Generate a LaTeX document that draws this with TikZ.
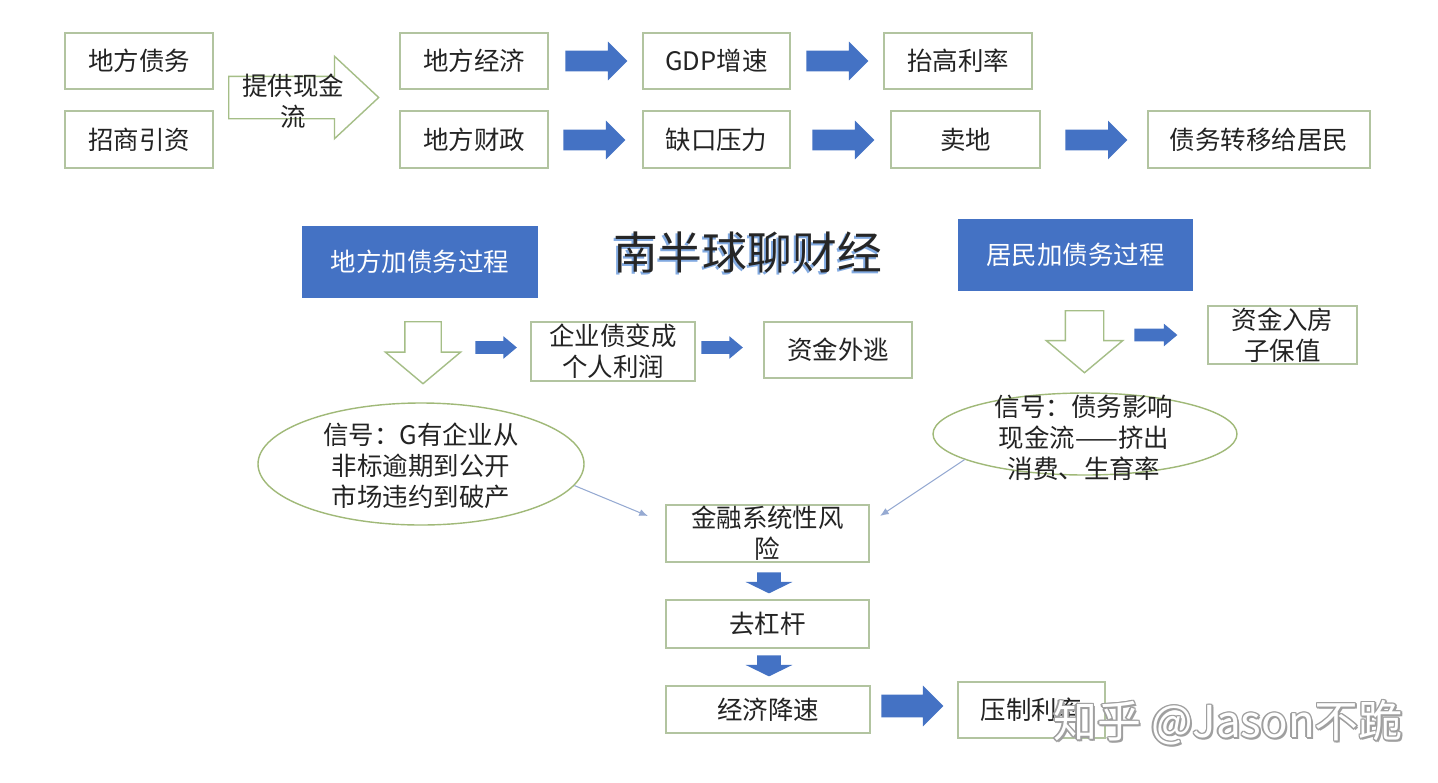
\documentclass[tikz,border=0pt]{standalone}
\usepackage{fontspec}
\setmainfont{Noto Sans CJK SC}
\usetikzlibrary{shapes.arrows,shapes.geometric,arrows.meta}
\definecolor{myblue}{RGB}{68,114,196}
\definecolor{boxc}{RGB}{178,196,160}
\definecolor{hollowc}{RGB}{165,190,135}
\definecolor{ellc}{RGB}{160,185,120}
\definecolor{thinc}{RGB}{150,170,210}
\definecolor{txt}{RGB}{35,35,35}
\definecolor{shadowblue}{RGB}{130,170,225}
\begin{document}
\begin{tikzpicture}[x=0.02cm,y=-0.02cm,
  every node/.style={font=\fontsize{14.5}{17.6}\selectfont, text=txt, align=center},
  sz/.style 2 args={minimum width=#1*0.02cm, minimum height=#2*0.02cm},
  bx/.style={draw=boxc, line width=0.9pt, fill=white, inner sep=0pt},
  bluebox/.style={fill=myblue, draw=none, text=white, inner sep=0pt},
  barr/.style={single arrow, fill=myblue, draw=none, inner xsep=0pt, inner ysep=0.2cm,
    minimum height=1.24cm, minimum width=0.76cm, anchor=tail,
    single arrow head extend=0.18cm, single arrow tip angle=90},
  sarr/.style={single arrow, fill=myblue, draw=none, inner xsep=0pt, inner ysep=0.12cm,
    minimum height=0.83cm, minimum width=0.44cm, anchor=tail,
    single arrow head extend=0.1cm, single arrow tip angle=80},
  darr/.style={single arrow, fill=myblue, draw=none, inner ysep=0pt, inner xsep=0.23cm,
    shape border rotate=270, anchor=tail,
    minimum height=0.42cm, minimum width=0.92cm,
    single arrow head extend=0.23cm, single arrow tip angle=128},
  harr/.style={single arrow, fill=white, draw=hollowc, line width=0.8pt, anchor=tail},
  ell/.style={ellipse, draw=ellc, line width=0.8pt, inner sep=0pt},
  thinarr/.style={draw=thinc, line width=0.6pt, -{Latex[length=5pt,width=4pt]}},
  wmfont/.style={font=\fontsize{25}{25}\selectfont},
]
\useasboundingbox[fill=white] (0,0) rectangle (1438,782);

% ---- top rows
\node[bx, sz={148}{56}] (d1) at (139,61) {地方债务};
\node[bx, sz={148}{57}] (d2) at (139,139.5) {招商引资};
\node[harr, inner xsep=0pt, inner ysep=0.41cm, minimum height=3cm, minimum width=1.62cm,
  single arrow head extend=0.4cm, single arrow tip angle=86] (ha) at (228,97.5) {};
\node (hat) at (293,101) {提供现金\\流};

\node[bx, sz={148}{56}] (e1) at (474,61) {地方经济};
\node[bx, sz={148}{57}] (e2) at (474,139.5) {地方财政};

\node[barr] (a1) at (565,61) {};
\node[bx, sz={147}{56}] (g1) at (716.5,61) {GDP增速};
\node[barr] (a2) at (806,61) {};
\node[bx, sz={148}{56}] (g2) at (958,61) {抬高利率};

\node[barr] (a3) at (563,140) {};
\node[bx, sz={147}{57}] (h1) at (716.5,139.5) {缺口压力};
\node[barr] (a4) at (812,140) {};
\node[bx, sz={149}{57}] (h2) at (965.5,139.5) {卖地};
\node[barr] (a5) at (1065,140) {};
\node[bx, sz={222}{57}] (h3) at (1259,139.5) {债务转移给居民};

% ---- middle
\node[bluebox, sz={236}{72}] (L) at (420,261.5) {地方加债务过程};
\node[font=\fontsize{25.5}{26}\selectfont, text=shadowblue] (ttls) at (745.5,254.5) {南半球聊财经};
\node[font=\fontsize{25.5}{26}\selectfont, text=black!85] (ttl) at (747.5,253) {南半球聊财经};
\node[bluebox, sz={235}{72}] (R) at (1075.5,255) {居民加债务过程};

\node[harr, shape border rotate=270, inner ysep=0pt, inner xsep=0.35cm, minimum height=1.24cm, minimum width=1.48cm,
  single arrow head extend=0.39cm, single arrow tip angle=100] (hd1) at (423,321) {};
\node[sarr] (sa1) at (475,347.5) {};
\node[bx, sz={164}{59}] (c1) at (613,351.5) {企业债变成\\个人利润};
\node[sarr] (sa2) at (701,347.5) {};
\node[bx, sz={148}{56}] (c2) at (838,350) {资金外逃};

\node[harr, shape border rotate=270, inner ysep=0pt, inner xsep=0.37cm, minimum height=1.24cm, minimum width=1.5cm,
  single arrow head extend=0.38cm, single arrow tip angle=100] (hd2) at (1084.5,310) {};
\node[sarr, minimum height=0.86cm] (sa3) at (1134,335) {};
\node[bx, sz={149}{58}] (c3) at (1282.5,335) {资金入房\\子保值};

% ---- ellipses
\node[ell, sz={326}{122}] (el1) at (421,464) {};
\node (el1t) at (421,466) {信号：G有企业从\\非标逾期到公开\\市场违约到破产};
\node[ell, sz={304}{82}] (el2) at (1085,434) {};
\node (el2t) at (1084,437.5) {信号：债务影响\\现金流——挤出\\消费、生育率};

% ---- bottom chain
\node[bx, sz={203}{57}] (f1) at (767.5,533.5) {金融系统性风\\险};
\node[darr] (da1) at (769,572) {};
\node[bx, sz={203}{48}] (f2) at (767.5,624) {去杠杆};
\node[darr] (da2) at (769,655) {};
\node[bx, sz={204}{47}] (f3) at (768,709.5) {经济降速};
\node[barr, inner ysep=0.22cm] (a6) at (881,706) {};
\node[bx, sz={147}{56}] (f4) at (1031.5,710) {压制利率};

\coordinate (t1) at (648,516);
\coordinate (t2) at (880,516);
\draw[thinarr] (el1.-8) -- (t1);
\draw[thinarr] (el2.192) -- (t2);

% ---- watermark
\foreach \dx/\dy [count=\k] in {-1.5/0,1.5/0,0/-1.5,0/1.5,-1/-1,1/1,-1/1,1/-1,2/2}
  \node[wmfont, text=gray!75] (wmo\k) at (1228+\dx,723+\dy) {知乎 @Jason不跪};
\node[wmfont, text=white] (wm) at (1228,723) {知乎 @Jason不跪};
\end{tikzpicture}
\end{document}
